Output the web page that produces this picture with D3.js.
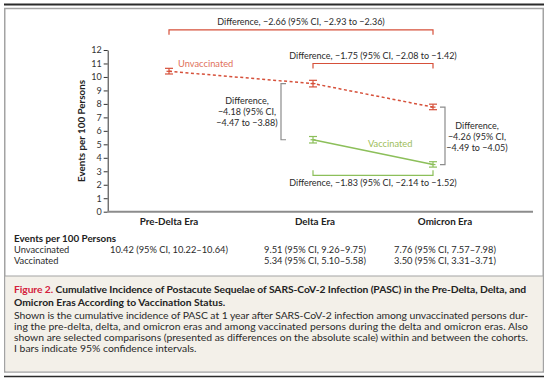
<!DOCTYPE html>
<html>
<head>
<meta charset="utf-8">
<script src="https://cdn.jsdelivr.net/npm/d3@7"></script>
<style>
  body { margin: 0; background: #fff; }
  svg { display: block; font-family: Lato, "Noto Sans", sans-serif; }
</style>
</head>
<body>
<div id="chart"></div>
<script>
// values
const eras = ["Pre-Delta Era", "Delta Era", "Omicron Era"];
const unvaccinated = [10.42, 9.51, 7.76];
const unvaccinatedLow = [10.22, 9.26, 7.57];
const unvaccinatedHigh = [10.64, 9.75, 7.98];
const vaccinated = [null, 5.34, 3.50];
const vaccinatedLow = [null, 5.10, 3.31];
const vaccinatedHigh = [null, 5.58, 3.71];
const yTicks = [0, 1, 2, 3, 4, 5, 6, 7, 8, 9, 10, 11, 12];

const diffTop = "Difference, \u22122.66 (95% CI, \u22122.93 to \u22122.36)";
const diffUnvacc = "Difference, \u22121.75 (95% CI, \u22122.08 to \u22121.42)";
const diffVacc = "Difference, \u22121.83 (95% CI, \u22122.14 to \u22121.52)";
const diffDelta = ["Difference,", "\u22124.18 (95% CI,", "\u22124.47 to \u22123.88)"];
const diffOmicron = ["Difference,", "\u22124.26 (95% CI,", "\u22124.49 to \u22124.05)"];

const unvaccRow = ["10.42 (95% CI, 10.22\u201310.64)", "9.51 (95% CI, 9.26\u20139.75)", "7.76 (95% CI, 7.57\u20137.98)"];
const vaccRow = ["", "5.34 (95% CI, 5.10\u20135.58)", "3.50 (95% CI, 3.31\u20133.71)"];

const captionTitle = [
    "Cumulative Incidence of Postacute Sequelae of SARS-CoV-2 Infection (PASC) in the Pre-Delta, Delta, and",
    "Omicron Eras According to Vaccination Status."
];
const captionBody = [
    "Shown is the cumulative incidence of PASC at 1 year after SARS-CoV-2 infection among unvaccinated persons dur-",
    "ing the pre-delta, delta, and omicron eras and among vaccinated persons during the delta and omicron eras. Also",
    "shown are selected comparisons (presented as differences on the absolute scale) within and between the cohorts.",
    "I bars indicate 95% confidence intervals."
];

const W = 548, H = 378;
const red = "#d6503a", redText = "#e0705a";
const green = "#8cbf5a", greenText = "#9dbd58";
const grey = "#8c8c8c";

let svg = d3.select("#chart").append("svg")
    .attr("width", W)
    .attr("height", H);

// frame + caption panel
svg.append("rect")
    .attr("x", 4.75).attr("y", 8.5)
    .attr("width", 538.5).attr("height", 363.5)
    .attr("fill", "#fff").attr("stroke", "#a3a3a3").attr("stroke-width", 1.5);
svg.append("rect")
    .attr("x", 5.5).attr("y", 276)
    .attr("width", 537).attr("height", 95.25)
    .attr("fill", "#f3f0e9");
svg.append("line")
    .attr("x1", 5).attr("x2", 543).attr("y1", 276).attr("y2", 276)
    .attr("stroke", "#a3a3a3").attr("stroke-width", 1.2);
svg.append("line")
    .attr("x1", 4).attr("x2", 544).attr("y1", 4.5).attr("y2", 4.5)
    .attr("stroke", "#2b2b2b").attr("stroke-width", 2);
svg.append("line")
    .attr("x1", 4).attr("x2", 544).attr("y1", 376.5).attr("y2", 376.5)
    .attr("stroke", "#2b2b2b").attr("stroke-width", 1.5);

// scales
let y = d3.scaleLinear().domain([0, 12]).range([211.7, 50]);
let x = d3.scaleOrdinal().domain(eras).range([169, 313, 433]);
let xLabel = d3.scaleOrdinal().domain(eras).range([169, 315, 445]);
const axisLeft = 107.7, axisRight = 533;

// y axis
let gy = svg.append("g")
    .attr("transform", "translate(" + axisLeft + ",0)")
    .call(d3.axisLeft(y).tickValues(yTicks).tickSize(4).tickSizeOuter(0).tickPadding(2));
gy.select(".domain").attr("stroke", "#333");
gy.selectAll(".tick line").attr("stroke", "#333");
gy.selectAll(".tick text")
    .attr("fill", "#333")
    .attr("font-size", 9)
    .attr("font-family", "Lato, 'Noto Sans', sans-serif");

svg.append("text")
    .attr("transform", "translate(81,131) rotate(-90)")
    .attr("text-anchor", "middle")
    .attr("dominant-baseline", "central")
    .attr("font-size", 9.8)
    .attr("font-weight", "bold")
    .attr("fill", "#222")
    .text("Events per 100 Persons");

// x axis baseline
svg.append("line")
    .attr("x1", axisLeft).attr("x2", axisRight)
    .attr("y1", y(0)).attr("y2", y(0))
    .attr("stroke", grey).attr("stroke-width", 2);

svg.selectAll(".era")
    .data(eras)
    .enter().append("text")
    .attr("class", "era")
    .attr("x", d => xLabel(d))
    .attr("y", 220.5)
    .attr("text-anchor", "middle")
    .attr("dominant-baseline", "central")
    .attr("font-size", 9.8)
    .attr("font-weight", "bold")
    .attr("fill", "#222")
    .text(d => d);

// series
function series(values, low, high, color, dashed) {
    let pts = eras.map((e, i) => ({ era: e, v: values[i], lo: low[i], hi: high[i] }))
        .filter(d => d.v != null);
    let line = d3.line().x(d => x(d.era)).y(d => y(d.v));
    svg.append("path")
        .datum(pts)
        .attr("d", line)
        .attr("fill", "none")
        .attr("stroke", color)
        .attr("stroke-width", 1.5)
        .attr("stroke-dasharray", dashed ? "3,2.5" : null);
    let g = svg.append("g").selectAll("g")
        .data(pts)
        .enter().append("g")
        .attr("stroke", color)
        .attr("stroke-width", 1.2);
    g.append("line")
        .attr("x1", d => x(d.era)).attr("x2", d => x(d.era))
        .attr("y1", d => y(d.lo)).attr("y2", d => y(d.hi));
    g.append("line")
        .attr("x1", d => x(d.era) - 4).attr("x2", d => x(d.era) + 4)
        .attr("y1", d => y(d.lo)).attr("y2", d => y(d.lo));
    g.append("line")
        .attr("x1", d => x(d.era) - 4).attr("x2", d => x(d.era) + 4)
        .attr("y1", d => y(d.hi)).attr("y2", d => y(d.hi));
    g.append("line")
        .attr("x1", d => x(d.era) - 2.5).attr("x2", d => x(d.era) + 2.5)
        .attr("y1", d => y(d.v)).attr("y2", d => y(d.v));
}
series(unvaccinated, unvaccinatedLow, unvaccinatedHigh, red, true);
series(vaccinated, vaccinatedLow, vaccinatedHigh, green, false);

svg.append("text")
    .attr("x", 178).attr("y", 63)
    .attr("dominant-baseline", "central")
    .attr("font-size", 9.3)
    .attr("fill", redText)
    .text("Unvaccinated");
svg.append("text")
    .attr("x", 368).attr("y", 143.5)
    .attr("dominant-baseline", "central")
    .attr("font-size", 9.3)
    .attr("fill", greenText)
    .text("Vaccinated");

// comparison brackets
function hBracket(e1, e2, level, dir, color, label, labelDy) {
    let yl = y(level);
    let x1 = x(e1), x2 = x(e2);
    svg.append("path")
        .attr("d", "M" + x1 + "," + (yl + dir * 5) + "V" + yl + "H" + x2 + "V" + (yl + dir * 5))
        .attr("fill", "none")
        .attr("stroke", color)
        .attr("stroke-width", 1.2);
    svg.append("text")
        .attr("x", (x1 + x2) / 2)
        .attr("y", yl + labelDy)
        .attr("text-anchor", "middle")
        .attr("dominant-baseline", "central")
        .attr("font-size", 9)
        .attr("fill", "#2a2a2a")
        .text(label);
}
hBracket(eras[0], eras[2], 13.5, 1, red, diffTop, -8);
hBracket(eras[1], eras[2], 11, 1, red, diffUnvacc, -7.5);
hBracket(eras[1], eras[2], 2.7, -1, green, diffVacc, 7);

function vBracket(xl, v1, v2, dir, lines, tx, ty) {
    svg.append("path")
        .attr("d", "M" + (xl + dir * 5) + "," + y(v1) + "H" + xl + "V" + y(v2) + "H" + (xl + dir * 5))
        .attr("fill", "none")
        .attr("stroke", grey)
        .attr("stroke-width", 1.2);
    svg.append("g").selectAll("text")
        .data(lines)
        .enter().append("text")
        .attr("x", tx)
        .attr("y", (d, i) => ty + i * 11)
        .attr("text-anchor", "middle")
        .attr("dominant-baseline", "central")
        .attr("font-size", 9)
        .attr("fill", "#2a2a2a")
        .text(d => d);
}
vBracket(x(eras[1]) - 32, unvaccinated[1], vaccinated[1], 1, diffDelta, 247, 100.5);
vBracket(x(eras[2]) + 12, unvaccinated[2], vaccinated[2], -1, diffOmicron, 477, 125);

// events table
svg.append("text")
    .attr("x", 14).attr("y", 238)
    .attr("dominant-baseline", "central")
    .attr("font-size", 9.8)
    .attr("font-weight", "bold")
    .attr("fill", "#222")
    .text("Events per 100 Persons");

[["Unvaccinated", unvaccRow, 249.5], ["Vaccinated", vaccRow, 260.5]].forEach(r => {
    svg.append("text")
        .attr("x", 14).attr("y", r[2])
        .attr("dominant-baseline", "central")
        .attr("font-size", 9.3)
        .attr("fill", "#2a2a2a")
        .text(r[0]);
    svg.append("g").selectAll("text")
        .data(r[1])
        .enter().append("text")
        .attr("x", (d, i) => xLabel(eras[i]))
        .attr("y", r[2])
        .attr("text-anchor", "middle")
        .attr("dominant-baseline", "central")
        .attr("font-size", 9.3)
        .attr("fill", "#2a2a2a")
        .text(d => d);
});

// caption
let t1 = svg.append("text")
    .attr("x", 14).attr("y", 289)
    .attr("dominant-baseline", "central")
    .attr("font-size", 10.3)
    .attr("font-weight", "bold")
    .attr("fill", "#222")
    .attr("textLength", 512)
    .attr("lengthAdjust", "spacing");
t1.append("tspan").attr("fill", "#d4213d").text("Figure 2. ");
t1.append("tspan").text(captionTitle[0]);
svg.append("text")
    .attr("x", 14).attr("y", 301.5)
    .attr("dominant-baseline", "central")
    .attr("font-size", 10.3)
    .attr("font-weight", "bold")
    .attr("fill", "#222")
    .text(captionTitle[1]);

svg.append("g").selectAll("text")
    .data(captionBody)
    .enter().append("text")
    .attr("x", 14)
    .attr("y", (d, i) => 315 + i * 11)
    .attr("dominant-baseline", "central")
    .attr("font-size", 10.4)
    .attr("fill", "#2a2a2a")
    .attr("textLength", (d, i) => i < 3 ? 514 : null)
    .attr("lengthAdjust", "spacing")
    .text(d => d);
</script>
</body>
</html>
